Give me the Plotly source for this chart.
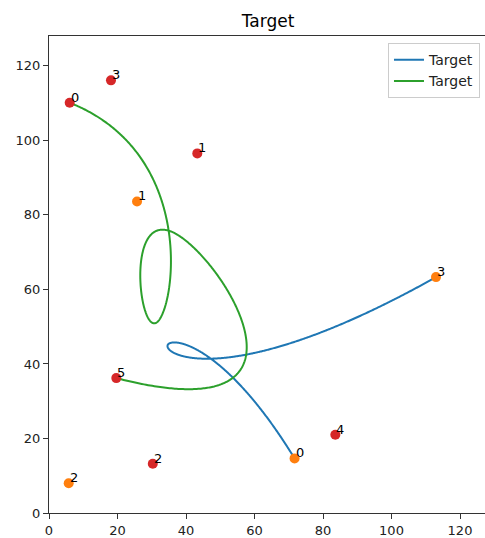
import numpy as np
import plotly.graph_objects as go

# Control points of the two curves
blue_ctrl_x = [71.7, 25.7, 5.75, 113.0]
blue_ctrl_y = [14.65, 83.6, 8.0, 63.3]
green_ctrl_x = [6.04, 43.3, 30.3, 18.1, 83.6, 19.65]
green_ctrl_y = [110.1, 96.5, 13.2, 116.1, 21.0, 36.2]

series_name = "Target"
line_colors = ["#1f77b4", "#2ca02c"]
point_colors = ["#ff7f0e", "#d62728"]
tick_vals = [0, 20, 40, 60, 80, 100, 120]


def _basis(i, k, t, knots):
    """Cox-de Boor recursion for the B-spline basis function N_{i,k}(t)."""
    if k == 0:
        if knots[i] <= t < knots[i + 1]:
            return 1.0
        if t == knots[-1] and knots[i] < t <= knots[i + 1]:
            return 1.0
        return 0.0
    val = 0.0
    d1 = knots[i + k] - knots[i]
    if d1 > 0:
        val += (t - knots[i]) / d1 * _basis(i, k - 1, t, knots)
    d2 = knots[i + k + 1] - knots[i + 1]
    if d2 > 0:
        val += (knots[i + k + 1] - t) / d2 * _basis(i + 1, k - 1, t, knots)
    return val


def clamped_bspline(px, py, degree=3, n=800):
    """Clamped uniform B-spline through the given control polygon."""
    m = len(px)
    inner = m - degree - 1
    knots = ([0.0] * (degree + 1)
             + [j / (inner + 1) for j in range(1, inner + 1)]
             + [1.0] * (degree + 1))
    ts = np.linspace(0.0, 1.0, n)
    xs, ys = [], []
    for t in ts:
        w = [_basis(i, degree, t, knots) for i in range(m)]
        xs.append(float(np.dot(w, px)))
        ys.append(float(np.dot(w, py)))
    return xs, ys


fig = go.Figure()

curves = [(blue_ctrl_x, blue_ctrl_y), (green_ctrl_x, green_ctrl_y)]
for (cx, cy), lc in zip(curves, line_colors):
    sx, sy = clamped_bspline(cx, cy)
    fig.add_trace(go.Scatter(x=sx, y=sy, mode="lines", name=series_name,
                             line=dict(color=lc, width=2, simplify=False)))

annotations = []
for (cx, cy), pc in zip(curves, point_colors):
    fig.add_trace(go.Scatter(x=cx, y=cy, mode="markers", showlegend=False,
                             marker=dict(color=pc, size=10, line=dict(width=0))))
    for i, (xv, yv) in enumerate(zip(cx, cy)):
        annotations.append(dict(x=xv, y=yv, text=str(i), showarrow=False,
                                xanchor="left", yanchor="bottom",
                                xshift=-1, yshift=-4,
                                font=dict(size=13, color="black")))

fig.update_layout(
    width=485, height=538,
    margin=dict(l=49, r=0, t=36, b=23),
    paper_bgcolor="white", plot_bgcolor="white",
    font=dict(family="DejaVu Sans", size=13, color="#222"),
    title=dict(text="Target", x=268 / 485, xref="container", xanchor="center",
               y=1 - 21 / 538, yref="container", yanchor="middle",
               font=dict(size=17, color="black")),
    annotations=annotations,
    legend=dict(x=0.9885, y=0.985, xanchor="right", yanchor="top",
                bgcolor="white", bordercolor="#cccccc", borderwidth=1,
                font=dict(size=14, color="#222")),
    showlegend=True,
)

fig.update_xaxes(range=[0, 127.3], tickvals=tick_vals, showgrid=False, zeroline=False,
                 showline=True, linecolor="#333", linewidth=1, mirror=True,
                 ticks="outside", ticklen=5, tickcolor="#333")
fig.update_yaxes(range=[0, 128], tickvals=tick_vals, showgrid=False, zeroline=False,
                 showline=True, linecolor="#333", linewidth=1,
                 ticks="outside", ticklen=5, tickcolor="#333")

fig.write_html("out.html")
